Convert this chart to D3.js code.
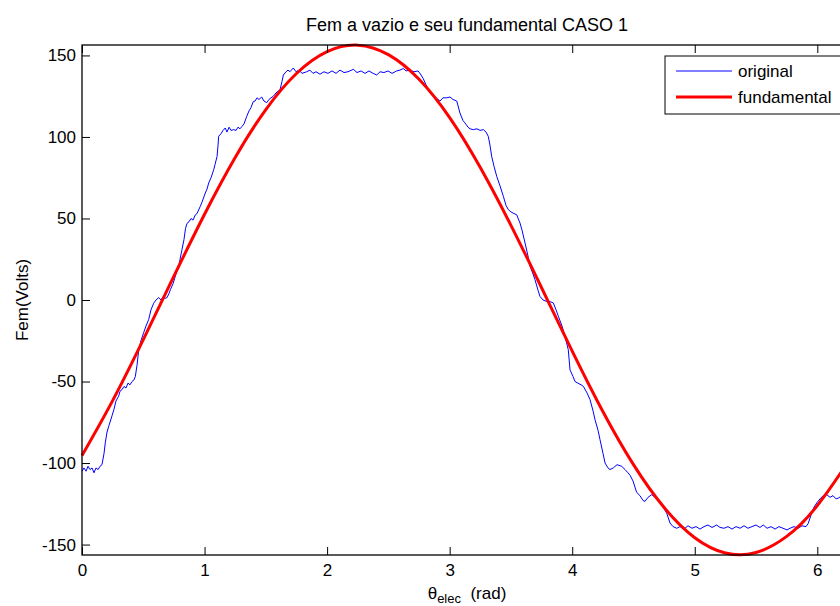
<!DOCTYPE html>
<html>
<head>
<meta charset="utf-8">
<script src="https://cdn.jsdelivr.net/npm/d3@7"></script>
<style>
  body { margin: 0; background: #fff; }
  svg { display: block; font-family: "Liberation Sans", Arial, sans-serif; }
</style>
</head>
<body>
<div id="chart"></div>
<script>
// Chart data
var titleText = "Fem a vazio e seu fundamental CASO 1";
var xTicks = [0, 1, 2, 3, 4, 5, 6];
var yTicks = [-150, -100, -50, 0, 50, 100, 150];
var xDomain = [0, 6.283];
var yDomain = [-156.4, 156.4];

// "original" trace: angle (rad) and volts
var origTheta = [
  0.000, 0.016, 0.033, 0.049, 0.065, 0.082, 0.098, 0.114, 0.131, 0.147,
  0.163, 0.180, 0.190, 0.204, 0.220, 0.245, 0.261, 0.277, 0.299, 0.310,
  0.326, 0.343, 0.359, 0.375, 0.392, 0.408, 0.424, 0.435, 0.449, 0.463,
  0.481, 0.503, 0.522, 0.544, 0.563, 0.585, 0.604, 0.626, 0.645, 0.661,
  0.677, 0.694, 0.710, 0.721, 0.743, 0.767, 0.789, 0.800, 0.816, 0.832,
  0.845, 0.857, 0.873, 0.889, 0.906, 0.925, 0.938, 0.965, 0.979, 1.006,
  1.020, 1.034, 1.053, 1.075, 1.085, 1.102, 1.110, 1.115, 1.134, 1.151,
  1.169, 1.183, 1.200, 1.216, 1.238, 1.257, 1.273, 1.289, 1.306, 1.322,
  1.344, 1.363, 1.379, 1.398, 1.412, 1.428, 1.444, 1.466, 1.485, 1.507,
  1.526, 1.542, 1.561, 1.583, 1.599, 1.616, 1.632, 1.643, 1.665, 1.681,
  1.697, 1.724, 1.746, 1.771, 1.795, 1.834, 1.860, 1.885, 1.909, 1.942,
  1.975, 2.007, 2.040, 2.073, 2.105, 2.138, 2.171, 2.214, 2.244, 2.277,
  2.309, 2.342, 2.375, 2.405, 2.432, 2.464, 2.497, 2.530, 2.568, 2.595,
  2.622, 2.644, 2.676, 2.709, 2.742, 2.758, 2.783, 2.813, 2.840, 2.867,
  2.889, 2.921, 2.946, 2.976, 3.003, 3.027, 3.058, 3.084, 3.109, 3.125,
  3.150, 3.166, 3.193, 3.223, 3.248, 3.275, 3.297, 3.315, 3.329, 3.343,
  3.362, 3.384, 3.411, 3.438, 3.460, 3.479, 3.501, 3.525, 3.547, 3.574,
  3.590, 3.615, 3.639, 3.656, 3.680, 3.696, 3.721, 3.737, 3.762, 3.792,
  3.819, 3.846, 3.868, 3.887, 3.917, 3.941, 3.968, 3.982, 4.007, 4.023,
  4.047, 4.072, 4.091, 4.121, 4.145, 4.170, 4.186, 4.211, 4.227, 4.251,
  4.268, 4.292, 4.308, 4.335, 4.366, 4.404, 4.431, 4.455, 4.472, 4.496,
  4.526, 4.553, 4.578, 4.594, 4.619, 4.649, 4.676, 4.716, 4.741, 4.771,
  4.798, 4.823, 4.853, 4.880, 4.912, 4.945, 4.978, 5.010, 5.043, 5.075,
  5.108, 5.141, 5.179, 5.206, 5.239, 5.271, 5.304, 5.337, 5.369, 5.402,
  5.434, 5.467, 5.500, 5.532, 5.559, 5.590, 5.622, 5.655, 5.687, 5.720,
  5.753, 5.777, 5.810, 5.843, 5.875, 5.908, 5.926, 5.954, 5.973, 5.995,
  6.022, 6.047, 6.077, 6.104, 6.128, 6.153, 6.171, 6.202, 6.234, 6.283
];
var origVolts = [
  -105, -103, -105, -102, -104, -103, -106, -103, -104, -102,
  -101, -94, -87.6, -81, -77, -71, -67, -62, -59, -56,
  -55, -53, -54, -51, -52, -50, -49, -47, -40, -30.5,
  -25, -20, -16, -12, -6, -2, 0, 1.5, 0, 2,
  1, 1.5, 4, 6.3, 10, 16, 20.6, 25, 31, 37,
  44, 47, 48, 50, 49, 52.3, 53, 57.4, 60, 65.6,
  68, 71.8, 75, 80, 83, 88, 95, 100.4, 102, 104,
  105.5, 103, 106, 104, 104.5, 104, 106, 105, 106.5, 108,
  112.6, 116, 118, 121.8, 122, 124, 123, 124.5, 122, 121,
  123, 124, 125, 127, 128, 129, 134, 138, 140, 141,
  140, 142.3, 140, 141, 139, 140, 141, 139, 140, 138.5,
  140, 139, 140.5, 139, 141, 139.5, 140, 141.5, 139.5, 140.5,
  139, 140.5, 139, 138, 140, 139.5, 140.5, 139, 140.5, 141,
  142, 140.5, 141, 140, 140.5, 139, 136, 131, 127, 125,
  124, 122, 124, 124, 124.5, 123, 122, 114.7, 110, 108.6,
  106, 105, 104.5, 105, 104, 104.5, 103, 100.4, 95, 88,
  82, 75.8, 70, 63.6, 58, 55.4, 54, 53, 52.3, 47.2,
  43, 35, 27, 20.6, 16, 12.5, 6, 2.2, 0, -0.9,
  -1, -1.8, -6, -10, -16, -22.3, -30.5, -42.8, -47, -50,
  -51, -52, -53, -57, -61, -68, -73.4, -80, -85.7, -94,
  -100, -103, -104, -103, -101, -102, -104, -106, -107.5, -111,
  -118, -120, -123, -123.5, -121, -119.4, -121, -123.5, -127, -130.7,
  -136.8, -139, -140, -139, -140.5, -138.5, -140, -139, -140.5, -139,
  -138, -139.5, -138, -139.5, -140, -139, -140.5, -139, -140, -138.5,
  -140, -139, -138, -139.5, -138, -140, -139, -140.5, -139, -140,
  -141, -140, -139, -140, -138.5, -139, -137, -130.7, -127, -124.5,
  -122, -120, -119.4, -121, -120, -122, -121.5, -120, -122, -121
];

// "fundamental" curve: angle (rad) and volts
var fundTheta = [
  0, 0.25, 0.5, 0.75, 1.0, 1.25, 1.5, 1.75, 2.0, 2.25, 2.5, 2.75, 3.0,
  3.25, 3.5, 3.75, 4.0, 4.25, 4.5, 4.75, 5.0, 5.25, 5.5, 5.75, 6.0, 6.25, 6.283
];
var fundVolts = [
  -95.4, -61.7, -24.3, 14.6, 52.6, 87.4, 116.8, 138.9, 152.3, 156.3, 150.5, 135.4, 111.9,
  81.3, 45.8, 7.5, -31.4, -68.4, -101.0, -127.3, -145.8, -155.2, -154.9, -145.0, -126.1, -99.3, -95.2
];

var seriesNames = ["original", "fundamental"];
var seriesColors = ["#0000ff", "#ff0000"];

// Page and axes box
var width = 840, height = 606;
var plotLeft = 82, plotRight = 852, plotTop = 45, plotBottom = 555;
var tickLen = 8;

var svg = d3.select("#chart").append("svg")
    .attr("width", width)
    .attr("height", height);

svg.append("rect")
    .attr("width", width)
    .attr("height", height)
    .style("fill", "#fff");

var x = d3.scaleLinear().domain(xDomain).range([plotLeft, plotRight]);
var y = d3.scaleLinear().domain(yDomain).range([plotBottom, plotTop]);

var origData = origTheta.map(function (t, i) { return [t, origVolts[i]]; });
var fundData = fundTheta.map(function (t, i) { return [t, fundVolts[i]]; });

// Lines
var origLine = d3.line()
    .x(function (d) { return x(d[0]); })
    .y(function (d) { return y(d[1]); });

var fundLine = d3.line()
    .curve(d3.curveNatural)
    .x(function (d) { return x(d[0]); })
    .y(function (d) { return y(d[1]); });

svg.append("path")
    .datum(origData)
    .attr("d", origLine)
    .style("fill", "none")
    .style("stroke", seriesColors[0])
    .style("stroke-width", 1);

svg.append("path")
    .datum(fundData)
    .attr("d", fundLine)
    .style("fill", "none")
    .style("stroke", seriesColors[1])
    .style("stroke-width", 3);

// Axes: ticks point inward on all four sides, plain hyphen minus in labels
var plainFormat = function (d) { return String(d); };
var xAxisBottom = d3.axisBottom(x).tickValues(xTicks).tickSize(-tickLen).tickPadding(9).tickFormat(plainFormat);
var xAxisTop = d3.axisTop(x).tickValues(xTicks).tickSize(-tickLen).tickFormat("");
var yAxisLeft = d3.axisLeft(y).tickValues(yTicks).tickSize(-tickLen).tickPadding(6).tickFormat(plainFormat);
var yAxisRight = d3.axisRight(y).tickValues(yTicks).tickSize(-tickLen).tickFormat("");

function styleAxis(g) {
    g.select(".domain").remove();
    g.selectAll(".tick line").style("stroke", "#000").style("stroke-width", 1);
    g.selectAll(".tick text")
        .style("font-size", "17px")
        .style("font-family", "'Liberation Sans', Arial, sans-serif")
        .style("fill", "#000");
}

svg.append("g").attr("transform", "translate(0," + plotBottom + ")").call(xAxisBottom).call(styleAxis);
svg.append("g").attr("transform", "translate(0," + plotTop + ")").call(xAxisTop).call(styleAxis);
svg.append("g").attr("transform", "translate(" + plotLeft + ",0)").call(yAxisLeft).call(styleAxis);
svg.append("g").attr("transform", "translate(" + plotRight + ",0)").call(yAxisRight).call(styleAxis);

// Box
svg.append("rect")
    .attr("x", plotLeft)
    .attr("y", plotTop)
    .attr("width", plotRight - plotLeft)
    .attr("height", plotBottom - plotTop)
    .style("fill", "none")
    .style("stroke", "#000")
    .style("stroke-width", 1.3);

// Title and axis labels
svg.append("text")
    .attr("x", (plotLeft + plotRight) / 2)
    .attr("y", 31)
    .attr("text-anchor", "middle")
    .style("font-size", "18px")
    .text(titleText);

svg.append("text")
    .attr("transform", "translate(28," + (plotTop + plotBottom) / 2 + ") rotate(-90)")
    .attr("text-anchor", "middle")
    .style("font-size", "17px")
    .text("Fem(Volts)");

var xLabel = svg.append("text")
    .attr("x", (plotLeft + plotRight) / 2)
    .attr("y", 599)
    .attr("text-anchor", "middle")
    .style("font-size", "17px");
xLabel.append("tspan").text("\u03b8");
xLabel.append("tspan").attr("dy", 4).style("font-size", "13px").text("elec");
xLabel.append("tspan").attr("dy", -4).text("\u00a0\u00a0(rad)");

// Legend
var legendX = 665, legendY = 56;
var legend = svg.append("g").attr("transform", "translate(" + legendX + "," + legendY + ")");

legend.append("rect")
    .attr("width", 200)
    .attr("height", 58)
    .style("fill", "#fff")
    .style("stroke", "#000")
    .style("stroke-width", 1);

var legendItems = legend.selectAll(".legend-item")
    .data(seriesNames)
    .enter().append("g")
    .attr("class", "legend-item")
    .attr("transform", function (d, i) { return "translate(0," + (15 + i * 26) + ")"; });

legendItems.append("line")
    .attr("x1", 11)
    .attr("x2", 67)
    .style("stroke", function (d, i) { return seriesColors[i]; })
    .style("stroke-width", function (d, i) { return i === 0 ? 1 : 3; });

legendItems.append("text")
    .attr("x", 73)
    .attr("dy", "0.35em")
    .style("font-size", "17px")
    .text(function (d) { return d; });
</script>
</body>
</html>
